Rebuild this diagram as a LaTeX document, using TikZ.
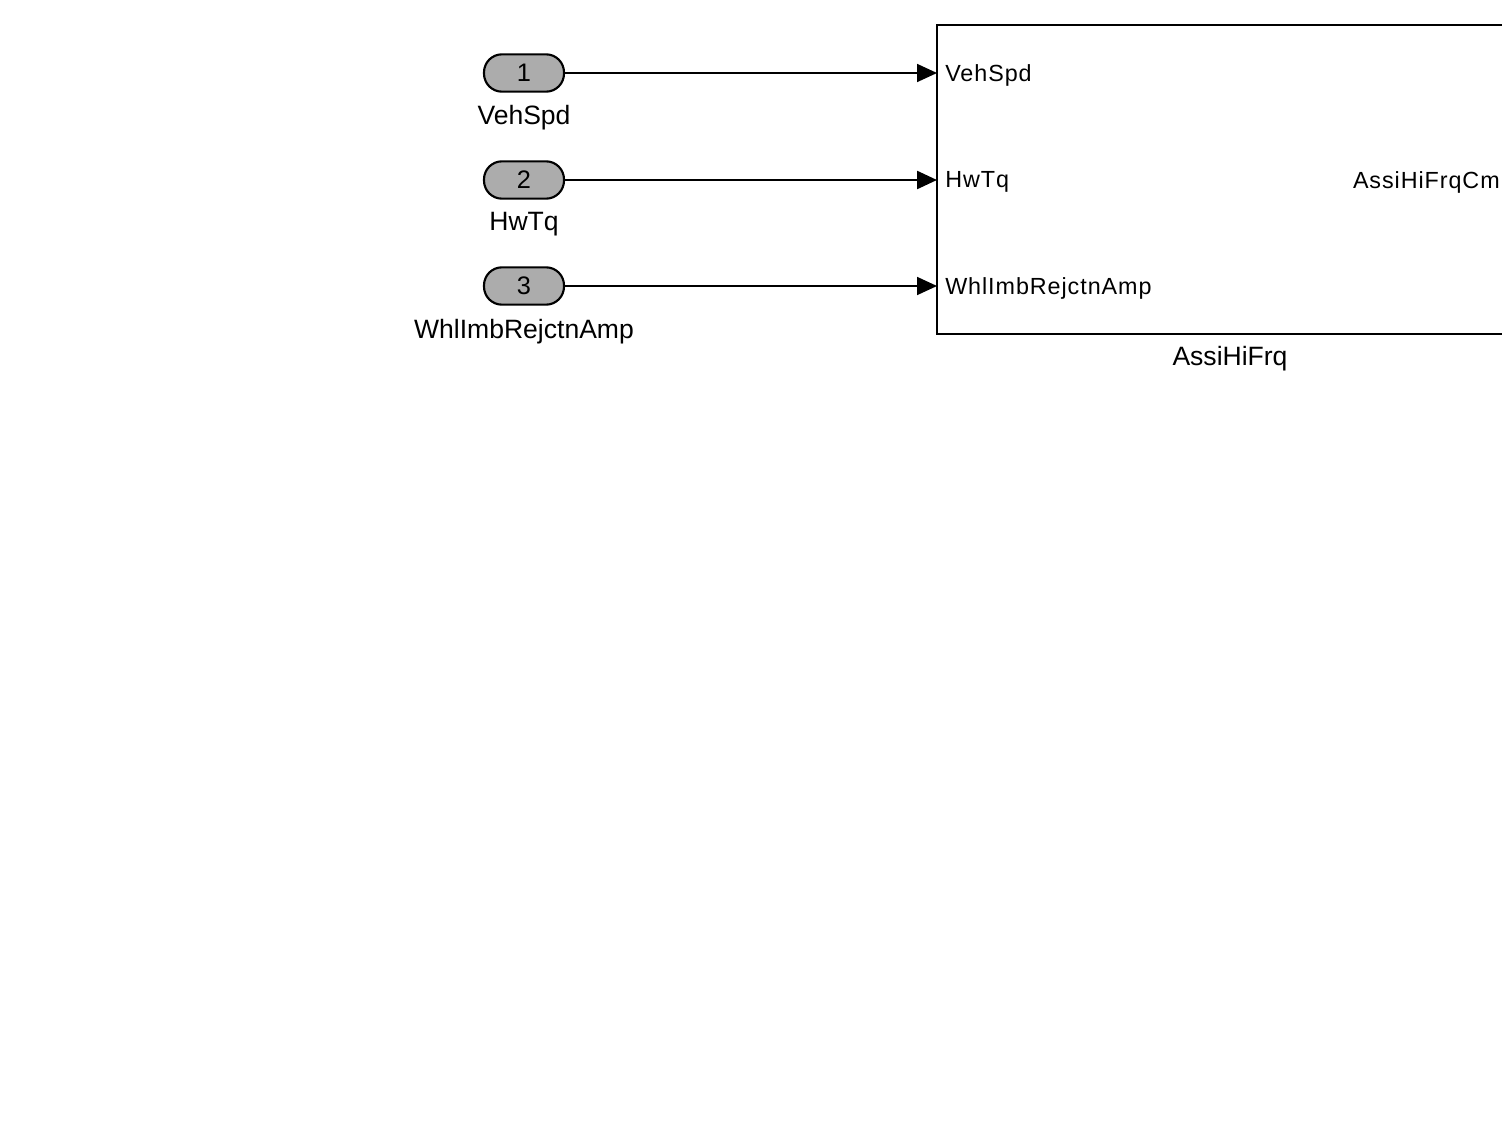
\documentclass[tikz,border=0pt]{standalone}
\usepackage{fontspec}
\setmainfont{Liberation Sans}
\usetikzlibrary{arrows.meta}
\begin{document}
\begin{tikzpicture}[x=0.75pt,y=-0.75pt,
  inport/.style={draw=black,line width=1.6pt,fill=gray!65,rounded corners=13.5pt,
    minimum width=60pt,minimum height=28pt,inner sep=0pt,font=\fontsize{19}{20}\selectfont},
  blocklabel/.style={font=\fontsize{19.9}{22}\selectfont,inner sep=0pt},
  portlabel/.style={font=\addfontfeatures{LetterSpace=4}\fontsize{17.5}{20}\selectfont,inner sep=0pt},
  sig/.style={draw=black,line width=1.3pt,-{Triangle[length=15pt,width=13.5pt]}}]
\useasboundingbox (0,0) rectangle (1502,1127);
\begin{scope}
\clip (0,0) rectangle (1502,1127);
% subsystem block
\draw[line width=2.2pt] (937,25) rectangle (1523,334);
\end{scope}
\coordinate (pVeh) at (937,73);
\coordinate (pHw) at (937,180);
\coordinate (pWhl) at (937,286);
\node[portlabel,anchor=west] (lVeh) at (945,75) {VehSpd};
\node[portlabel,anchor=west] (lHw) at (945,182) {HwTq};
\node[portlabel,anchor=west] (lWhl) at (945,288) {WhlImbRejctnAmp};
\node[portlabel,anchor=east] (lOut) at (1500,182) {AssiHiFrqCm};
\node[blocklabel] (blk) at (1230,359) {AssiHiFrq};
% inports
\node[inport] (in1) at (524,73) {1};
\node[inport] (in2) at (524,180) {2};
\node[inport] (in3) at (524,286) {3};
\node[blocklabel] (n1) at (524,118) {VehSpd};
\node[blocklabel] (n2) at (524,224) {HwTq};
\node[blocklabel] (n3) at (524,332) {WhlImbRejctnAmp};
% signal lines
\draw[sig] (in1.east) -- (pVeh);
\draw[sig,line width=1.8pt] (in2.east) -- (pHw);
\draw[sig] (in3.east) -- (pWhl);
\end{tikzpicture}
\end{document}
